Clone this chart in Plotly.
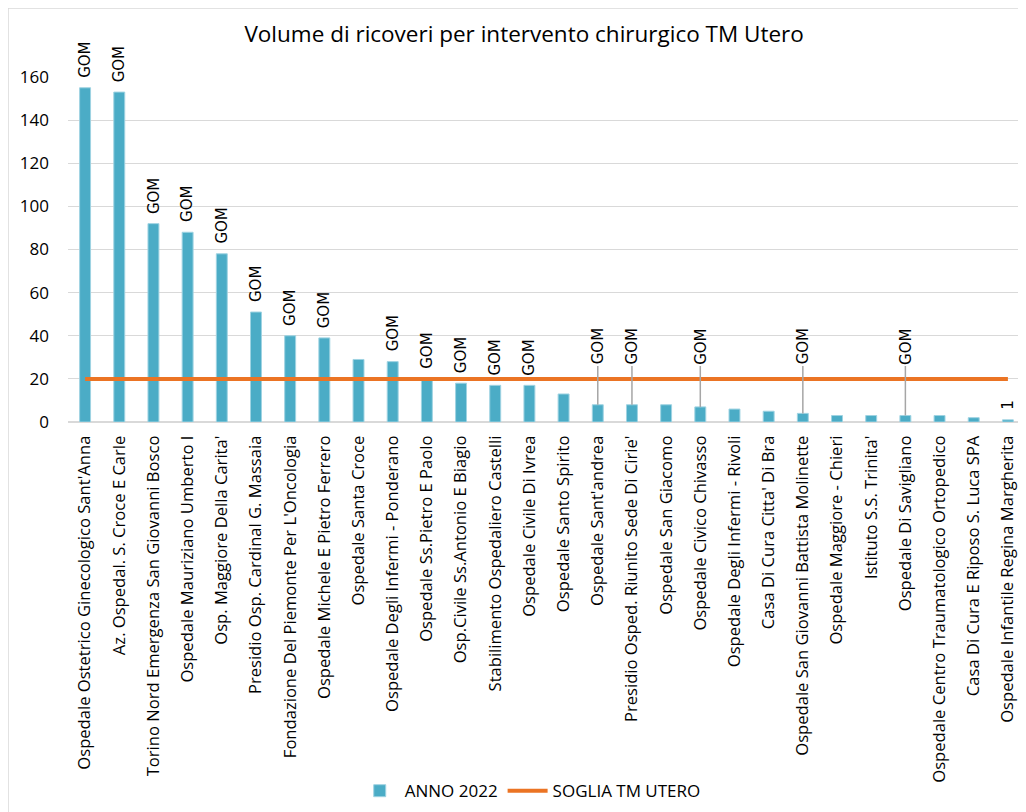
import plotly.graph_objects as go

categories = [
    "Ospedale Ostetrico Ginecologico Sant'Anna",
    "Az. Ospedal. S. Croce E Carle",
    "Torino Nord Emergenza San Giovanni Bosco",
    "Ospedale Mauriziano Umberto I",
    "Osp. Maggiore Della Carita'",
    "Presidio Osp. Cardinal G. Massaia",
    "Fondazione Del Piemonte Per L'Oncologia",
    "Ospedale Michele E Pietro Ferrero",
    "Ospedale Santa Croce",
    "Ospedale Degli Infermi - Ponderano",
    "Ospedale Ss.Pietro E Paolo",
    "Osp.Civile Ss.Antonio E Biagio",
    "Stabilimento Ospedaliero Castelli",
    "Ospedale Civile Di Ivrea",
    "Ospedale Santo Spirito",
    "Ospedale Sant'andrea",
    "Presidio Osped. Riunito Sede Di Cirie'",
    "Ospedale San Giacomo",
    "Ospedale Civico Chivasso",
    "Ospedale Degli Infermi - Rivoli",
    "Casa Di Cura Citta' Di Bra",
    "Ospedale San Giovanni Battista Molinette",
    "Ospedale Maggiore - Chieri",
    "Istituto S.S. Trinita'",
    "Ospedale Di Savigliano",
    "Ospedale Centro Traumatologico Ortopedico",
    "Casa Di Cura E Riposo S. Luca SPA",
    "Ospedale Infantile Regina Margherita",
]
volumes_2022 = [155, 153, 92, 88, 78, 51, 40, 39, 29, 28, 20, 18, 17, 17, 13,
                8, 8, 8, 7, 6, 5, 4, 3, 3, 3, 3, 2, 1]
labels = ["GOM", "GOM", "GOM", "GOM", "GOM", "GOM", "GOM", "GOM", "", "GOM",
          "GOM", "GOM", "GOM", "GOM", "", "GOM", "GOM", "", "GOM", "", "",
          "GOM", "", "", "GOM", "", "", "1"]
leader = [False] * 15 + [True, True, False, True, False, False, True, False,
                         False, True, False, False, False]
threshold = 20
threshold_values = [threshold] * len(categories)
y_ticks = [0, 20, 40, 60, 80, 100, 120, 140, 160]

FONT = "Open Sans"
LABEL_FONT = dict(family="DejaVu Sans", size=15, color="#000000")

fig = go.Figure()
fig.add_trace(go.Bar(
    x=categories, y=volumes_2022, name="ANNO 2022",
    marker=dict(color="#4BACC6", line=dict(color="#9FD3E2", width=1)),
))
fig.add_trace(go.Scatter(
    x=categories, y=threshold_values, name="SOGLIA TM UTERO", mode="lines",
    line=dict(color="#EB7424", width=4),
))

annotations = []
for cat, val, lab, lead in zip(categories, volumes_2022, labels, leader):
    if not lab:
        continue
    if lead:
        annotations.append(dict(
            x=cat, y=val, text=lab, textangle=-90, showarrow=True,
            arrowhead=0, arrowwidth=1.5, arrowcolor="#A6A6A6",
            ax=0, ayref="y", ay=35, font=LABEL_FONT,
        ))
    else:
        annotations.append(dict(
            x=cat, y=val, text=lab, textangle=-90, showarrow=False,
            yanchor="bottom", yshift=8, font=LABEL_FONT,
        ))

# page has an 8px body margin; figure is sized/offset to compensate
fig.update_layout(
    width=1018, height=804,
    margin=dict(l=60, r=1, t=69, b=390, autoexpand=False),
    paper_bgcolor="white", plot_bgcolor="white",
    font=dict(family=FONT, size=16, color="#000000"),
    title=dict(text="Volume di ricoveri per intervento chirurgico TM Utero",
               x=0.507, xref="container", xanchor="center",
               y=1 - 26 / 804, yref="container", yanchor="middle",
               font=dict(family=FONT, size=22.5, color="#000000")),
    bargap=0.68,
    showlegend=True,
    legend=dict(orientation="h", x=0.483, xanchor="center", y=-1.07,
                yanchor="middle", yref="paper",
                font=dict(family=FONT, size=17, color="#000000"),
                traceorder="normal", itemwidth=40),
    annotations=annotations,
    shapes=[dict(type="rect", xref="paper", yref="paper",
                 x0=-60 / 957, x1=1.01, y0=-1.2, y1=414 / 345,
                 line=dict(color="#D9D9D9", width=1.5), layer="below")],
)
fig.update_xaxes(
    tickangle=-90, showgrid=False, showline=True, linecolor="#D9D9D9",
    linewidth=1, ticks="", tickfont=dict(family=FONT, size=16.6, color="#000000"),
    ticklabelstandoff=6,
)
fig.update_yaxes(
    range=[0, 160], tickvals=y_ticks, showgrid=True, gridcolor="#D9D9D9",
    gridwidth=1, zeroline=True, zerolinecolor="#D9D9D9", showline=False,
    ticks="", tickfont=dict(family=FONT, size=17, color="#000000"),
    ticklabelstandoff=18,
)
fig.write_html("out.html")
